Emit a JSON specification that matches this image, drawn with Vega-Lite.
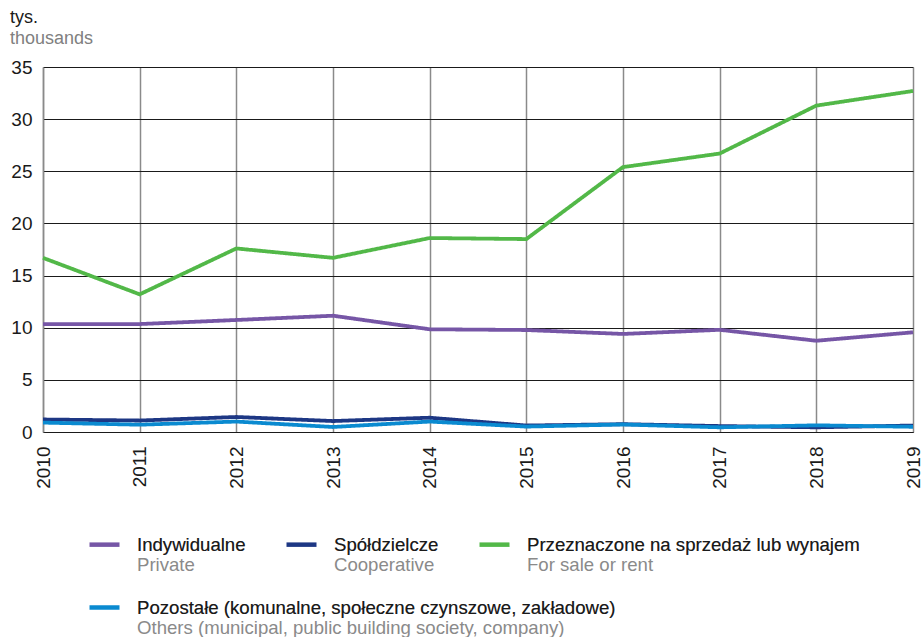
{
  "$schema": "https://vega.github.io/schema/vega-lite/v6.json",
  "autosize": {"type": "none"},
  "padding": {"left": 43, "top": 67, "right": 9, "bottom": 205},
  "width": 870,
  "height": 365,
  "background": "white",
  "config": {
    "font": "Liberation Sans",
    "view": {"stroke": null}
  },
  "title": {
    "text": "tys.",
    "subtitle": "thousands",
    "anchor": "start",
    "frame": "group",
    "dx": -33,
    "fontSize": 18,
    "fontWeight": "normal",
    "color": "#1a1a1a",
    "subtitleFontSize": 18,
    "subtitleColor": "#808080",
    "subtitlePadding": 3,
    "offset": 10
  },
  "data": {
    "values": [
      {"year": "2010", "cat": "Indywidualne", "en": "Private", "value": 10.35},
      {"year": "2011", "cat": "Indywidualne", "en": "Private", "value": 10.35},
      {"year": "2012", "cat": "Indywidualne", "en": "Private", "value": 10.74},
      {"year": "2013", "cat": "Indywidualne", "en": "Private", "value": 11.15},
      {"year": "2014", "cat": "Indywidualne", "en": "Private", "value": 9.85},
      {"year": "2015", "cat": "Indywidualne", "en": "Private", "value": 9.78},
      {"year": "2016", "cat": "Indywidualne", "en": "Private", "value": 9.4},
      {"year": "2017", "cat": "Indywidualne", "en": "Private", "value": 9.8},
      {"year": "2018", "cat": "Indywidualne", "en": "Private", "value": 8.75},
      {"year": "2019", "cat": "Indywidualne", "en": "Private", "value": 9.56},
      {"year": "2010", "cat": "Spółdzielcze", "en": "Cooperative", "value": 1.2},
      {"year": "2011", "cat": "Spółdzielcze", "en": "Cooperative", "value": 1.1},
      {"year": "2012", "cat": "Spółdzielcze", "en": "Cooperative", "value": 1.44},
      {"year": "2013", "cat": "Spółdzielcze", "en": "Cooperative", "value": 1.05},
      {"year": "2014", "cat": "Spółdzielcze", "en": "Cooperative", "value": 1.37},
      {"year": "2015", "cat": "Spółdzielcze", "en": "Cooperative", "value": 0.62},
      {"year": "2016", "cat": "Spółdzielcze", "en": "Cooperative", "value": 0.75},
      {"year": "2017", "cat": "Spółdzielcze", "en": "Cooperative", "value": 0.57},
      {"year": "2018", "cat": "Spółdzielcze", "en": "Cooperative", "value": 0.45},
      {"year": "2019", "cat": "Spółdzielcze", "en": "Cooperative", "value": 0.62},
      {"year": "2010", "cat": "Przeznaczone na sprzedaż lub wynajem", "en": "For sale or rent", "value": 16.7},
      {"year": "2011", "cat": "Przeznaczone na sprzedaż lub wynajem", "en": "For sale or rent", "value": 13.2},
      {"year": "2012", "cat": "Przeznaczone na sprzedaż lub wynajem", "en": "For sale or rent", "value": 17.6},
      {"year": "2013", "cat": "Przeznaczone na sprzedaż lub wynajem", "en": "For sale or rent", "value": 16.7},
      {"year": "2014", "cat": "Przeznaczone na sprzedaż lub wynajem", "en": "For sale or rent", "value": 18.6},
      {"year": "2015", "cat": "Przeznaczone na sprzedaż lub wynajem", "en": "For sale or rent", "value": 18.5},
      {"year": "2016", "cat": "Przeznaczone na sprzedaż lub wynajem", "en": "For sale or rent", "value": 25.4},
      {"year": "2017", "cat": "Przeznaczone na sprzedaż lub wynajem", "en": "For sale or rent", "value": 26.7},
      {"year": "2018", "cat": "Przeznaczone na sprzedaż lub wynajem", "en": "For sale or rent", "value": 31.3},
      {"year": "2019", "cat": "Przeznaczone na sprzedaż lub wynajem", "en": "For sale or rent", "value": 32.7},
      {"year": "2010", "cat": "Pozostałe (komunalne, społeczne czynszowe, zakładowe)", "en": "Others (municipal, public building society, company)", "value": 0.9},
      {"year": "2011", "cat": "Pozostałe (komunalne, społeczne czynszowe, zakładowe)", "en": "Others (municipal, public building society, company)", "value": 0.7},
      {"year": "2012", "cat": "Pozostałe (komunalne, społeczne czynszowe, zakładowe)", "en": "Others (municipal, public building society, company)", "value": 1.0},
      {"year": "2013", "cat": "Pozostałe (komunalne, społeczne czynszowe, zakładowe)", "en": "Others (municipal, public building society, company)", "value": 0.48},
      {"year": "2014", "cat": "Pozostałe (komunalne, społeczne czynszowe, zakładowe)", "en": "Others (municipal, public building society, company)", "value": 1.0},
      {"year": "2015", "cat": "Pozostałe (komunalne, społeczne czynszowe, zakładowe)", "en": "Others (municipal, public building society, company)", "value": 0.52},
      {"year": "2016", "cat": "Pozostałe (komunalne, społeczne czynszowe, zakładowe)", "en": "Others (municipal, public building society, company)", "value": 0.72},
      {"year": "2017", "cat": "Pozostałe (komunalne, społeczne czynszowe, zakładowe)", "en": "Others (municipal, public building society, company)", "value": 0.45},
      {"year": "2018", "cat": "Pozostałe (komunalne, społeczne czynszowe, zakładowe)", "en": "Others (municipal, public building society, company)", "value": 0.64},
      {"year": "2019", "cat": "Pozostałe (komunalne, społeczne czynszowe, zakładowe)", "en": "Others (municipal, public building society, company)", "value": 0.5}
    ]
  },
  "encoding": {
    "x": {
      "field": "year",
      "type": "ordinal",
      "scale": {"type": "point", "padding": 0},
      "axis": {
        "title": null,
        "labelAngle": -90,
        "labelFontSize": 19,
        "labelColor": "#1a1a1a",
        "labelPadding": 14,
        "ticks": false,
        "domain": true,
        "domainColor": "#1a1a1a",
        "domainWidth": 1.2,
        "grid": true,
        "gridColor": "#8a8a8a",
        "gridWidth": 1.5,
        "zindex": 0
      }
    },
    "y": {
      "field": "value",
      "type": "quantitative",
      "scale": {"domain": [0, 35], "nice": false},
      "axis": {
        "title": null,
        "values": [0, 5, 10, 15, 20, 25, 30, 35],
        "labelFontSize": 19,
        "labelColor": "#1a1a1a",
        "labelPadding": 11,
        "ticks": false,
        "domain": true,
        "domainColor": "#8a8a8a",
        "domainWidth": 1.5,
        "grid": true,
        "gridColor": "#1a1a1a",
        "gridWidth": 1,
        "zindex": 0
      }
    }
  },
  "layer": [
    {
      "transform": [{"filter": "datum.cat != 'Pozostałe (komunalne, społeczne czynszowe, zakładowe)'"}],
      "mark": {"type": "line", "strokeWidth": 3.8, "strokeJoin": "miter", "clip": false},
      "encoding": {
        "color": {
          "field": "cat",
          "type": "nominal",
          "sort": null,
          "scale": {
            "domain": ["Indywidualne", "Spółdzielcze", "Przeznaczone na sprzedaż lub wynajem"],
            "range": ["#7656a6", "#1d3784", "#52b848"]
          },
          "legend": {
            "title": null,
            "orient": "none",
            "legendX": 44,
            "legendY": 460,
            "direction": "horizontal",
            "columns": 3,
            "columnPadding": 31,
            "padding": 0,
            "symbolType": "stroke",
            "symbolSize": 900,
            "symbolStrokeWidth": 4.5,
            "labelOffset": 15,
            "labelFontSize": 18.6,
            "labelColor": "#8a8a8a",
            "labelLimit": 0,
            "labelBaseline": "middle",
            "labelExpr": "[datum.label, datum.label == 'Indywidualne' ? 'Private' : datum.label == 'Spółdzielcze' ? 'Cooperative' : 'For sale or rent']",
            "zindex": 0
          }
        },
        "strokeDash": {
          "field": "en",
          "type": "nominal",
          "sort": null,
          "scale": {
            "domain": ["Private", "Cooperative", "For sale or rent"],
            "range": [[1, 0], [1, 0], [1, 0]]
          },
          "legend": {
            "title": null,
            "orient": "none",
            "legendX": 44,
            "legendY": 460,
            "direction": "horizontal",
            "columns": 3,
            "columnPadding": 38,
            "padding": 0,
            "symbolType": "stroke",
            "symbolSize": 900,
            "symbolStrokeWidth": 4.5,
            "symbolOpacity": 0,
            "labelOffset": 15,
            "labelFontSize": 18.6,
            "labelColor": "#1a1a1a",
            "labelLimit": 0,
            "labelBaseline": "middle",
            "labelExpr": "[datum.label == 'Private' ? 'Indywidualne' : datum.label == 'Cooperative' ? 'Spółdzielcze' : 'Przeznaczone na sprzedaż lub wynajem', '']",
            "zindex": 1
          }
        }
      }
    },
    {
      "transform": [{"filter": "datum.cat == 'Pozostałe (komunalne, społeczne czynszowe, zakładowe)'"}],
      "mark": {"type": "line", "strokeWidth": 3.8, "strokeJoin": "miter", "clip": false},
      "encoding": {
        "color": {
          "field": "cat",
          "type": "nominal",
          "scale": {
            "domain": ["Pozostałe (komunalne, społeczne czynszowe, zakładowe)"],
            "range": ["#0a8ad0"]
          },
          "legend": {
            "title": null,
            "orient": "none",
            "legendX": 44,
            "legendY": 523,
            "direction": "horizontal",
            "padding": 0,
            "symbolType": "stroke",
            "symbolSize": 900,
            "symbolStrokeWidth": 4.5,
            "labelOffset": 15,
            "labelFontSize": 18.6,
            "labelColor": "#8a8a8a",
            "labelLimit": 0,
            "labelBaseline": "middle",
            "labelExpr": "[datum.label, 'Others (municipal, public building society, company)']",
            "zindex": 0
          }
        },
        "strokeDash": {
          "field": "en",
          "type": "nominal",
          "scale": {
            "domain": ["Others (municipal, public building society, company)"],
            "range": [[1, 0]]
          },
          "legend": {
            "title": null,
            "orient": "none",
            "legendX": 44,
            "legendY": 523,
            "direction": "horizontal",
            "padding": 0,
            "symbolType": "stroke",
            "symbolSize": 900,
            "symbolStrokeWidth": 4.5,
            "symbolOpacity": 0,
            "labelOffset": 15,
            "labelFontSize": 18.6,
            "labelColor": "#1a1a1a",
            "labelLimit": 0,
            "labelBaseline": "middle",
            "labelExpr": "['Pozostałe (komunalne, społeczne czynszowe, zakładowe)', '']",
            "zindex": 1
          }
        }
      }
    }
  ],
  "resolve": {
    "scale": {"color": "independent", "strokeDash": "independent"},
    "legend": {"color": "independent", "strokeDash": "independent"}
  }
}
